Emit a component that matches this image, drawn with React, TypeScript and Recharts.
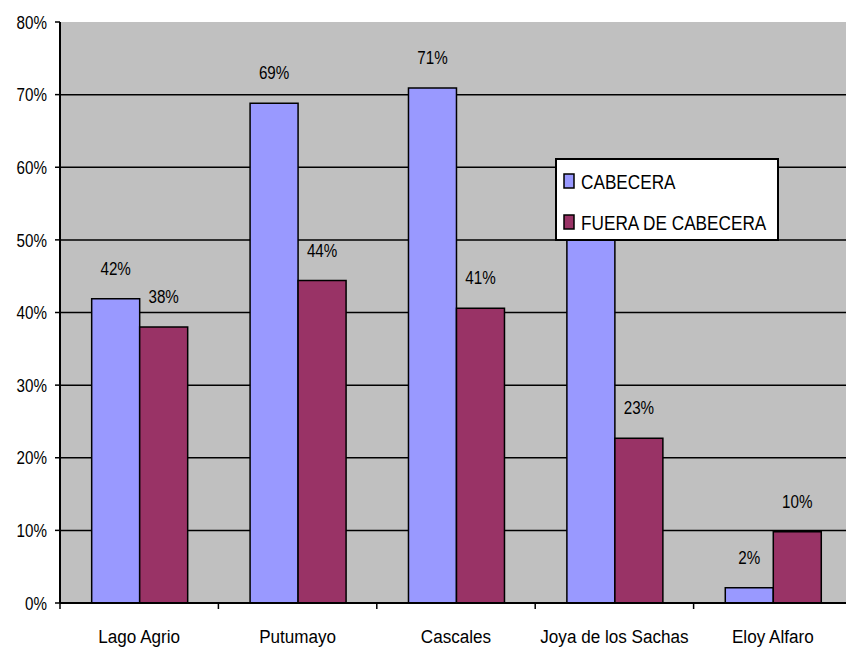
import React from 'react';
import { BarChart, Bar, XAxis, YAxis, CartesianGrid, LabelList } from 'recharts';

const categories = ['Lago Agrio', 'Putumayo', 'Cascales', 'Joya de los Sachas', 'Eloy Alfaro'];
const cabecera = [41.9, 68.8, 70.9, 56, 2.1];
const fueraCabecera = [38, 44.4, 40.6, 22.7, 9.8];
const yTicks = [0, 10, 20, 30, 40, 50, 60, 70, 80];
const gridValues = [10, 20, 30, 40, 50, 60, 70];

const data = categories.map((name, i) => ({
    name,
    cabecera: cabecera[i],
    fuera: fueraCabecera[i],
}));

const BLUE = '#9999ff';
const MAROON = '#993366';
const FONT = '"Liberation Sans", Arial, sans-serif';

const YTick = (props: any) => {
    const { x, y, payload } = props;
    return (
        <text transform={`translate(${x},${y}) scale(0.8,1)`} textAnchor="end" dy="0.35em" fontSize={19} fontFamily={FONT} fill="#000">
            {`${payload.value}%`}
        </text>
    );
};

// category label plus the little tick marks between categories (excel style)
const XTick = (props: any) => {
    const { x, y, payload, width, visibleTicksCount, index } = props;
    const half = width / visibleTicksCount / 2;
    return (
        <g>
            <line x1={x - half} x2={x - half} y1={y} y2={y + 6} stroke="#000" strokeWidth={1.5} />
            {index === visibleTicksCount - 1 && (
                <line x1={x + half} x2={x + half} y1={y} y2={y + 6} stroke="#000" strokeWidth={1.5} />
            )}
            <text transform={`translate(${x},${y + 40}) scale(0.9,1)`} textAnchor="middle" fontSize={19} fontFamily={FONT} fill="#000">
                {payload.value}
            </text>
        </g>
    );
};

const BarLabel = (props: any) => {
    const { x, y, width, value } = props;
    return (
        <text transform={`translate(${x + width / 2},${y - 24}) scale(0.8,1)`} textAnchor="middle" fontSize={19} fontFamily={FONT} fill="#000">
            {`${Math.round(value)}%`}
        </text>
    );
};

// legend box sits over the plot, like the original
const LegendBox = () => (
    <svg width={224} height={83} style={{ position: 'absolute', left: 555, top: 158, display: 'block' }}>
        <rect x={1} y={1} width={222} height={81} fill="#fff" stroke="#000" strokeWidth={2} />
        <rect x={9} y={16} width={10} height={14} fill={BLUE} stroke="#000" strokeWidth={1.5} />
        <text transform="translate(26,31) scale(0.86,1)" fontSize={20} fontFamily={FONT} fill="#000">CABECERA</text>
        <rect x={9} y={57} width={10} height={14} fill={MAROON} stroke="#000" strokeWidth={1.5} />
        <text transform="translate(26,72) scale(0.86,1)" fontSize={20} fontFamily={FONT} fill="#000">FUERA DE CABECERA</text>
    </svg>
);

export default function App() {
    return (
        <div style={{ position: 'absolute', left: 0, top: 0, width: 846, height: 651, overflow: 'hidden', background: '#fff' }}>
            <BarChart
                width={860}
                height={651}
                data={data}
                margin={{ top: 22, right: 8, left: 8, bottom: 0 }}
                barCategoryGap="20%"
                barGap={0}
            >
                <CartesianGrid
                    horizontal
                    vertical={false}
                    fill="#c0c0c0"
                    stroke="#000"
                    strokeWidth={1.5}
                    horizontalValues={gridValues}
                />
                <XAxis
                    dataKey="name"
                    height={48}
                    axisLine={{ stroke: '#000', strokeWidth: 2 }}
                    tickLine={false}
                    tickSize={0}
                    tickMargin={0}
                    tick={<XTick />}
                    interval={0}
                />
                <YAxis
                    width={52}
                    domain={[0, 80]}
                    ticks={yTicks}
                    interval={0}
                    tickSize={5}
                    tickMargin={8}
                    axisLine={{ stroke: '#000', strokeWidth: 2 }}
                    tickLine={{ stroke: '#000', strokeWidth: 1.5 }}
                    tick={<YTick />}
                />
                <Bar dataKey="cabecera" name="CABECERA" fill={BLUE} stroke="#000" strokeWidth={1.5} isAnimationActive={false}>
                    <LabelList dataKey="cabecera" content={<BarLabel />} />
                </Bar>
                <Bar dataKey="fuera" name="FUERA DE CABECERA" fill={MAROON} stroke="#000" strokeWidth={1.5} isAnimationActive={false}>
                    <LabelList dataKey="fuera" content={<BarLabel />} />
                </Bar>
            </BarChart>
            <LegendBox />
        </div>
    );
}
